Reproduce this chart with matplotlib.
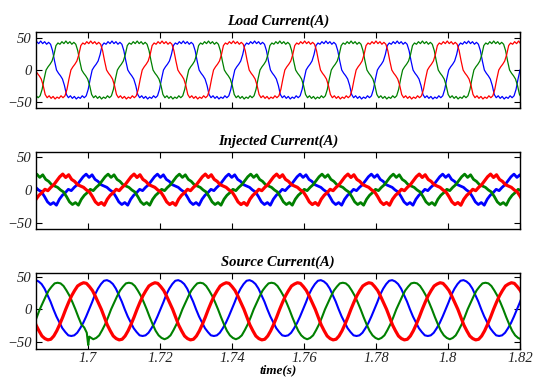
import numpy as np
import matplotlib
matplotlib.use("Agg")
import matplotlib.pyplot as plt
from matplotlib.ticker import FormatStrFormatter

# cycle length (s)
period = 0.0198

# load current: one cycle, 10 deg steps, starting where the rising edge reaches 0
load_cycle = [0, 5, 9, 14, 24, 38, 42, 40, 44, 41, 45, 41, 44, 40, 43, 40, 30, 14,
              0, -5, -9, -14, -24, -38, -43, -40, -44, -41, -45, -42, -44, -40, -43, -40, -30, -14]
load_start = {"blue": 1.7012, "green": 1.7082, "red": 1.7151}

# source current: one cycle, 15 deg steps from the positive peak
src_blue = [45, 43, 39, 32, 22, 12, 0, -11, -20, -29, -35, -40, -41, -40, -36, -29, -21, -11, 0, 11, 23, 32, 39, 44]
src_green = [41, 40, 36, 29, 21, 11, 0, -12, -23, -33, -40, -44, -46, -44, -40, -32, -23, -12, 0, 10, 20, 29, 35, 40]
src_red = [41, 40, 35, 29, 20, 10, 0, -12, -24, -33, -41, -45, -47, -46, -41, -33, -23, -12, 0, 11, 21, 29, 36, 39]
src_peak = {"blue": 1.7053, "green": 1.7114, "red": 1.6988}

# disturbance on the green source current near t = 1.70
green_dip_t = [1.6990, 1.6997, 1.7001, 1.7004]
green_dip_i = [-28, -36, -55, -42]

# injected current: one cycle, 15 deg steps, same reference as the source peaks
inj_cycle = [4, 0, -3, -10, -18, -22, -19, -23, -14, -8, -4, 1,
             -1, 4, 8, 14, 20, 24, 19, 23, 16, 13, 8, 6]

colors = {"blue": "#0000ff", "green": "#008000", "red": "#ff0000"}


def tile(cycle, start):
    n = len(cycle)
    ks = np.arange(-2, 9)
    t = (start + (ks[:, None] + np.arange(n)[None, :] / n) * period).ravel()
    return t, np.tile(cycle, len(ks))


fig = plt.figure(figsize=(5.34, 3.79), dpi=100)
ax1 = fig.add_axes([0.0674, 0.715, 0.9064, 0.2005])
ax2 = fig.add_axes([0.0674, 0.3958, 0.9064, 0.2032])
ax3 = fig.add_axes([0.0674, 0.0792, 0.9064, 0.2005])

for ph in ["blue", "green", "red"]:
    t, y = tile(load_cycle, load_start[ph])
    ax1.plot(t, y, color=colors[ph], lw=0.9)

for ph, w in [("blue", 2.0), ("green", 2.0), ("red", 2.3)]:
    t, y = tile(inj_cycle, src_peak[ph])
    ax2.plot(t, y, color=colors[ph], lw=w)

for ph, cyc, w in [("blue", src_blue, 1.5), ("green", src_green, 1.5), ("red", src_red, 2.3)]:
    t, y = tile(cyc, src_peak[ph])
    if ph == "green":
        keep = (t < 1.6986) | (t > 1.7007)
        t = np.concatenate([t[keep], green_dip_t])
        y = np.concatenate([y[keep], green_dip_i])
        order = np.argsort(t)
        t, y = t[order], y[order]
    ax3.plot(t, y, color=colors[ph], lw=w)

titles = ["Load Current(A)", "Injected Current(A)", "Source Current(A)"]
ylims = [(-59, 59), (-59, 57.5), (-61, 56)]
for ax, title, yl in zip([ax1, ax2, ax3], titles, ylims):
    ax.set_xlim(1.6856, 1.82)
    ax.set_ylim(yl)
    ax.set_xticks([1.7, 1.72, 1.74, 1.76, 1.78, 1.8, 1.82])
    ax.set_yticks([-50, 0, 50])
    ax.tick_params(direction="in", top=True, right=True, length=4, width=0.8, pad=3,
                   labelsize=10.5, labelcolor="#222222")
    ax.tick_params(axis="x", pad=2)
    for lab in ax.get_xticklabels() + ax.get_yticklabels():
        lab.set_family("Liberation Serif")
        lab.set_style("italic")
    for sp in ax.spines.values():
        sp.set_linewidth(1.0)
    ax.set_title(title, family="Liberation Serif", style="italic", weight="bold",
                 fontsize=10.5, pad=5)

ax1.set_xticklabels([])
ax2.set_xticklabels([])
ax3.xaxis.set_major_formatter(FormatStrFormatter("%g"))
for lab in ax3.get_xticklabels():
    lab.set_family("Liberation Serif")
    lab.set_style("italic")
ax3.set_xlabel("time(s)", family="Liberation Serif", style="italic", weight="bold",
               fontsize=9.5, labelpad=0)

fig.savefig("out.png", dpi=100)
